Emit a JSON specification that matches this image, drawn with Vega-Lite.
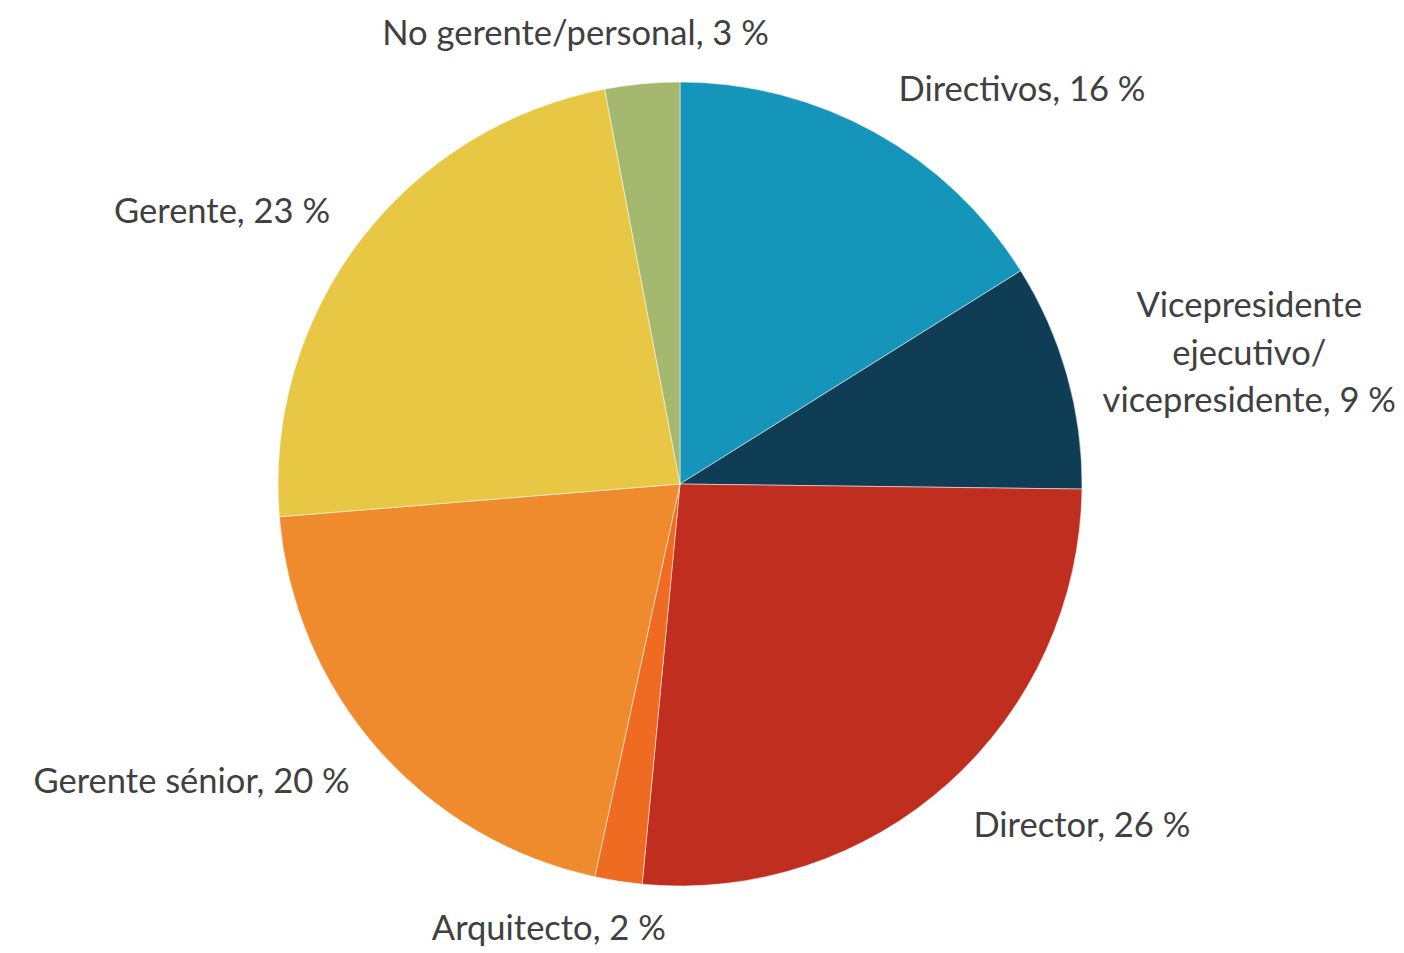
{
  "$schema": "https://vega.github.io/schema/vega-lite/v6.json",
  "width": 1360,
  "height": 938,
  "autosize": {"type": "none"},
  "padding": {"left": 0, "top": 15, "right": 44, "bottom": 0},
  "background": "white",
  "config": {"view": {"stroke": null}},
  "data": {
    "values": [
      {"i": 1, "name": "Directivos", "value": 16.1, "label": "Directivos, 16 %"},
      {"i": 2, "name": "Vicepresidente ejecutivo/vicepresidente", "value": 9.1, "label": "Vicepresidente\nejecutivo/\nvicepresidente, 9 %"},
      {"i": 3, "name": "Director", "value": 26.3, "label": "Director, 26 %"},
      {"i": 4, "name": "Arquitecto", "value": 1.9, "label": "Arquitecto, 2 %"},
      {"i": 5, "name": "Gerente sénior", "value": 20.3, "label": "Gerente sénior, 20 %"},
      {"i": 6, "name": "Gerente", "value": 23.3, "label": "Gerente, 23 %"},
      {"i": 7, "name": "No gerente/personal", "value": 3.0, "label": "No gerente/personal, 3 %"}
    ]
  },
  "encoding": {
    "theta": {"field": "value", "type": "quantitative", "stack": true},
    "order": {"field": "i", "type": "quantitative"}
  },
  "layer": [
    {
      "mark": {"type": "arc", "outerRadius": 402, "stroke": "white", "strokeWidth": 0.5},
      "encoding": {
        "color": {
          "field": "name",
          "type": "nominal",
          "legend": null,
          "scale": {
            "domain": ["Directivos", "Vicepresidente ejecutivo/vicepresidente", "Director", "Arquitecto", "Gerente sénior", "Gerente", "No gerente/personal"],
            "range": ["#1595BA", "#0F3D56", "#BF2E1F", "#EF6B22", "#EF8B2D", "#E8C745", "#A5B86F"]
          }
        }
      }
    },
    {
      "mark": {"type": "text", "radius": 451, "align": "left", "baseline": "middle", "dy": 2, "font": "Lato", "fontSize": 34.5, "fill": "#404040", "lineBreak": "\n"},
      "encoding": {
        "detail": {"field": "name", "type": "nominal"},
        "text": {"condition": {"test": "datum.name == 'Directivos'", "field": "label"}, "value": ""}
      }
    },
    {
      "mark": {"type": "text", "radius": 451, "align": "left", "baseline": "middle", "dx": -8, "dy": 8, "font": "Lato", "fontSize": 34.5, "fill": "#404040", "lineBreak": "\n"},
      "encoding": {
        "detail": {"field": "name", "type": "nominal"},
        "text": {"condition": {"test": "datum.name == 'Director'", "field": "label"}, "value": ""}
      }
    },
    {
      "mark": {"type": "text", "radius": 451, "align": "right", "baseline": "middle", "dx": 9, "dy": 2, "font": "Lato", "fontSize": 34.5, "fill": "#404040", "lineBreak": "\n"},
      "encoding": {
        "detail": {"field": "name", "type": "nominal"},
        "text": {"condition": {"test": "datum.name == 'Gerente sénior' || datum.name == 'Gerente'", "field": "label"}, "value": ""}
      }
    },
    {
      "mark": {"type": "text", "radius": 451, "align": "center", "baseline": "middle", "dx": -62, "font": "Lato", "fontSize": 34.5, "fill": "#404040", "lineBreak": "\n"},
      "encoding": {
        "detail": {"field": "name", "type": "nominal"},
        "text": {"condition": {"test": "datum.name == 'No gerente/personal' || datum.name == 'Arquitecto'", "field": "label"}, "value": ""}
      }
    },
    {
      "mark": {"type": "text", "radius": 451, "align": "center", "baseline": "middle", "dx": 135, "dy": -55, "font": "Lato", "fontSize": 34.5, "lineHeight": 47.5, "fill": "#404040", "lineBreak": "\n"},
      "encoding": {
        "detail": {"field": "name", "type": "nominal"},
        "text": {"condition": {"test": "datum.name == 'Vicepresidente ejecutivo/vicepresidente'", "field": "label"}, "value": ""}
      }
    }
  ]
}
